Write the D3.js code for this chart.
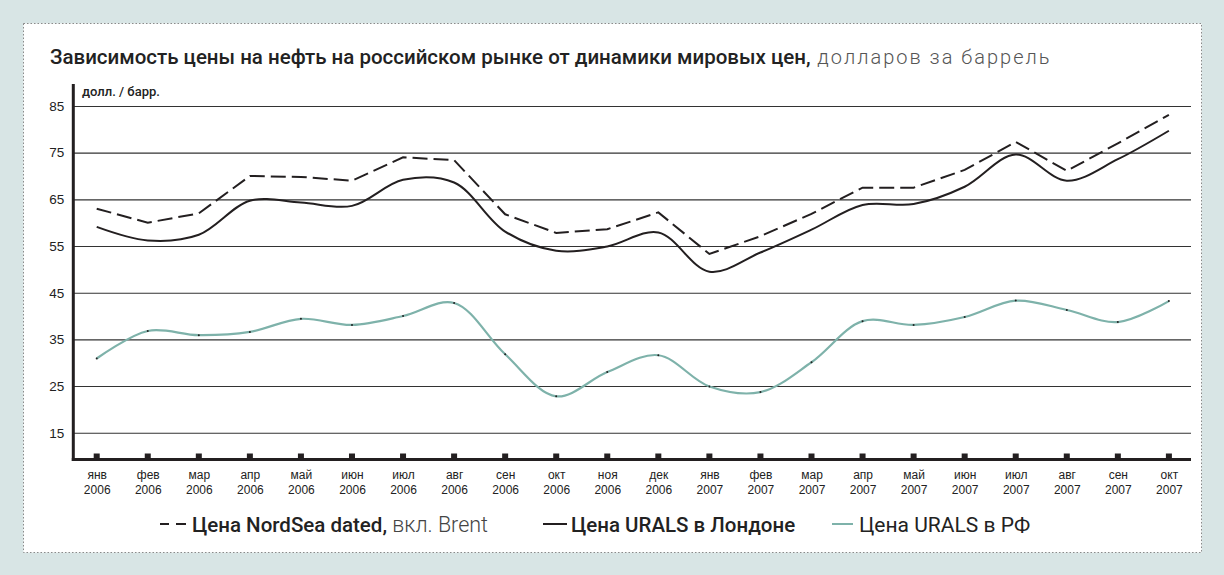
<!DOCTYPE html>
<html>
<head>
<meta charset="utf-8">
<script src="https://cdn.jsdelivr.net/npm/d3@7"></script>
<style>
  body { margin: 0; background: #d8e5e5; }
  svg { display: block; font-family: Roboto, "Noto Sans", sans-serif; }
  .grid line { stroke: #333; stroke-width: 1.1; }
  .grid .domain { display: none; }
  .ylab text { font-size: 13.5px; font-weight: 500; fill: #222; }
  .xlab text { font-size: 12px; font-weight: 500; fill: #222; }
</style>
</head>
<body>
<svg class="chart" width="1224" height="575"></svg>
<script>
// данные
const months = ["янв","фев","мар","апр","май","июн","июл","авг","сен","окт","ноя","дек",
                "янв","фев","мар","апр","май","июн","июл","авг","сен","окт"];
const years = ["2006","2006","2006","2006","2006","2006","2006","2006","2006","2006","2006","2006",
               "2007","2007","2007","2007","2007","2007","2007","2007","2007","2007"];
const brent = [63, 60, 62, 70, 69.8, 69, 74, 73.4, 61.8, 57.8, 58.6, 62.2,
               53.3, 57.1, 61.9, 67.5, 67.5, 71.3, 77.3, 71.1, 77, 83.1];
const uralsLondon = [59.1, 56.2, 57.4, 64.7, 64.3, 63.6, 69.2, 68.6, 58.1, 54, 54.9, 57.9,
                     49.5, 53.6, 58.5, 63.8, 64, 67.7, 74.6, 69, 73.6, 79.7];
const uralsRF = [30.9, 36.8, 35.9, 36.6, 39.4, 38.1, 40, 42.8, 31.8, 22.8, 28, 31.6,
                 24.9, 23.7, 30.1, 38.9, 38.1, 39.8, 43.3, 41.3, 38.7, 43.2];
const yTicks = [15, 25, 35, 45, 55, 65, 75, 85];

const keys = months.map((m, i) => m + " " + years[i]);

const svg = d3.select(".chart");

// белая панель с пунктирной рамкой
svg.append("rect")
  .attr("x", 23.5).attr("y", 23.5)
  .attr("width", 1178).attr("height", 529)
  .attr("fill", "#fff")
  .attr("stroke", "#8a8a8a")
  .attr("stroke-dasharray", "1.5,2");

// заголовок
const title = svg.append("text")
  .attr("x", 50).attr("y", 64)
  .attr("fill", "#222");
title.append("tspan").attr("font-weight", 500).attr("font-size", 20.5)
  .text("Зависимость цены на нефть на российском рынке от динамики мировых цен,");
title.append("tspan").attr("font-weight", 300).attr("font-size", 20).attr("fill", "#555")
  .attr("letter-spacing", 2)
  .text(" долларов за баррель");

// шкалы
const xScale = d3.scalePoint()
  .domain(keys)
  .range([96.7, 1168.9]);

const yScale = d3.scaleLinear()
  .domain([9.15, 85])
  .range([460, 106]);

const left = 73.3, right = 1191;

// сетка
const yGrid = d3.axisLeft(yScale)
  .tickValues(yTicks)
  .tickSize(-(right - left))
  .tickFormat("");
svg.append("g")
  .attr("class", "grid")
  .attr("transform", `translate(${left},0)`)
  .call(yGrid);

// подписи Y
const yAxis = d3.axisLeft(yScale).tickValues(yTicks).tickSize(0).tickPadding(9);
const yg = svg.append("g")
  .attr("class", "ylab")
  .attr("transform", `translate(${left},0)`)
  .call(yAxis);
yg.select(".domain").remove();

svg.append("text")
  .attr("x", 82).attr("y", 96)
  .attr("font-size", 13).attr("font-weight", 500).attr("fill", "#222")
  .text("долл. / барр.");

// оси
svg.append("line")
  .attr("x1", left).attr("x2", left)
  .attr("y1", 84).attr("y2", 461)
  .attr("stroke", "#231f20").attr("stroke-width", 3);
svg.append("line")
  .attr("x1", left - 1.5).attr("x2", right)
  .attr("y1", 459.5).attr("y2", 459.5)
  .attr("stroke", "#231f20").attr("stroke-width", 3);

// квадратики делений
svg.append("g")
  .selectAll("rect")
  .data(keys)
  .enter()
  .append("rect")
  .attr("x", d => xScale(d) - 3)
  .attr("y", 453.5)
  .attr("width", 6)
  .attr("height", 6)
  .attr("fill", "#231f20");

// подписи X
const xAxis = d3.axisBottom(xScale).tickSize(0).tickPadding(0).tickFormat("");
const xg = svg.append("g")
  .attr("class", "xlab")
  .attr("transform", "translate(0,461)")
  .call(xAxis);
xg.select(".domain").remove();
xg.selectAll(".tick text").remove();
xg.selectAll(".tick").each(function(d, i) {
  const t = d3.select(this).append("text").attr("text-anchor", "middle");
  t.append("tspan").attr("x", 0).attr("y", 18).text(months[i]);
  t.append("tspan").attr("x", 0).attr("y", 33).text(years[i]);
});

// линии
const line = vals => d3.line()
  .x((d, i) => xScale(keys[i]))
  .y(d => yScale(d))
  .curve(d3.curveCatmullRom.alpha(0.5))(vals);

const straight = vals => d3.line()
  .x((d, i) => xScale(keys[i]))
  .y(d => yScale(d))(vals);

svg.append("path")
  .attr("d", line(uralsRF))
  .attr("fill", "none")
  .attr("stroke", "#7eb2aa")
  .attr("stroke-width", 2.2);

svg.append("g")
  .selectAll("circle")
  .data(uralsRF)
  .enter()
  .append("circle")
  .attr("cx", (d, i) => xScale(keys[i]))
  .attr("cy", d => yScale(d))
  .attr("r", 1)
  .attr("fill", "#222");

svg.append("path")
  .attr("d", line(uralsLondon))
  .attr("fill", "none")
  .attr("stroke", "#231f20")
  .attr("stroke-width", 2);

svg.append("path")
  .attr("d", straight(brent))
  .attr("fill", "none")
  .attr("stroke", "#231f20")
  .attr("stroke-width", 2)
  .attr("stroke-dasharray", "15,6");

// легенда
const legY = 524;
const lg = svg.append("g").attr("fill", "#222");

lg.append("line").attr("x1", 160).attr("x2", 169).attr("y1", legY).attr("y2", legY)
  .attr("stroke", "#231f20").attr("stroke-width", 2);
lg.append("line").attr("x1", 176).attr("x2", 186).attr("y1", legY).attr("y2", legY)
  .attr("stroke", "#231f20").attr("stroke-width", 2);
const t1 = lg.append("text").attr("x", 192).attr("y", legY + 7.5);
t1.append("tspan").attr("font-weight", 500).attr("font-size", 20.5).text("Цена NordSea dated,");
t1.append("tspan").attr("font-weight", 300).attr("font-size", 21.5).attr("fill", "#444").text(" вкл. Brent");

lg.append("line").attr("x1", 543).attr("x2", 567).attr("y1", legY).attr("y2", legY)
  .attr("stroke", "#231f20").attr("stroke-width", 2);
lg.append("text").attr("x", 571).attr("y", legY + 7.5)
  .attr("font-weight", 500).attr("font-size", 20.5)
  .text("Цена URALS в Лондоне");

lg.append("line").attr("x1", 832).attr("x2", 853).attr("y1", legY).attr("y2", legY)
  .attr("stroke", "#7eb2aa").attr("stroke-width", 2);
lg.append("text").attr("x", 859).attr("y", legY + 7.5)
  .attr("font-weight", 400).attr("font-size", 21)
  .text("Цена URALS в РФ");
</script>
</body>
</html>
